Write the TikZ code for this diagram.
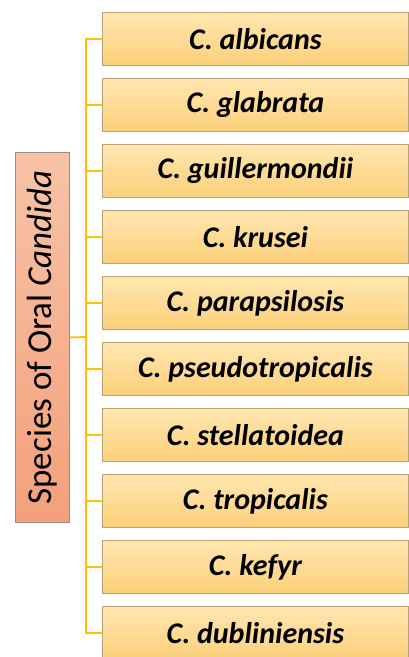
\documentclass[tikz,border=0pt]{standalone}
\usepackage{fontspec}
\setmainfont{Carlito}
\begin{document}
\begin{tikzpicture}[x=1pt,y=-1pt,
  sp/.style={draw=boxedge,line width=0.8pt,top color=boxtop,bottom color=boxbot,
    minimum width=306pt,minimum height=53pt,anchor=north west,inner sep=0pt,
    font=\fontsize{30}{32}\selectfont\bfseries\itshape},
  main/.style={draw=mainedge,line width=0.8pt,top color=maintop,bottom color=mainbot,
    minimum width=54pt,minimum height=370pt,anchor=north west,inner sep=0pt},
  conn/.style={draw=connline,line width=1.8pt}]
\definecolor{boxtop}{HTML}{FFE6B0}
\definecolor{boxbot}{HTML}{FCD07A}
\definecolor{boxedge}{HTML}{B9A277}
\definecolor{maintop}{HTML}{F7C3A6}
\definecolor{mainbot}{HTML}{F3A07C}
\definecolor{mainedge}{HTML}{A08A80}
\definecolor{connline}{HTML}{FFC000}
\useasboundingbox (0,0) rectangle (409,657);
\clip (0,0) rectangle (409,657);
\coordinate (top) at (86,39);
\coordinate (mj) at (86,337);
\node[main] (m) at (15,152) {};
\draw[conn] (m.east) -- (mj);
\node[rotate=90,font=\fontsize{35}{38}\selectfont] (mt) at (m.center) {Species of Oral \textit{Candida}};
\foreach \t [count=\i] in {albicans,glabrata,guillermondii,krusei,parapsilosis,pseudotropicalis,stellatoidea,tropicalis,kefyr,dubliniensis}{
  \node[sp] (b\i) at (102,{12+66*(\i-1)}) {C. \t};
}
\draw[conn] (b1.west) -- (b1.west -| top) -- (b10.west -| top) -- (b10.west);
\foreach \i in {2,...,9}{\draw[conn] (b\i.west -| top) -- (b\i.west);}
\end{tikzpicture}
\end{document}
